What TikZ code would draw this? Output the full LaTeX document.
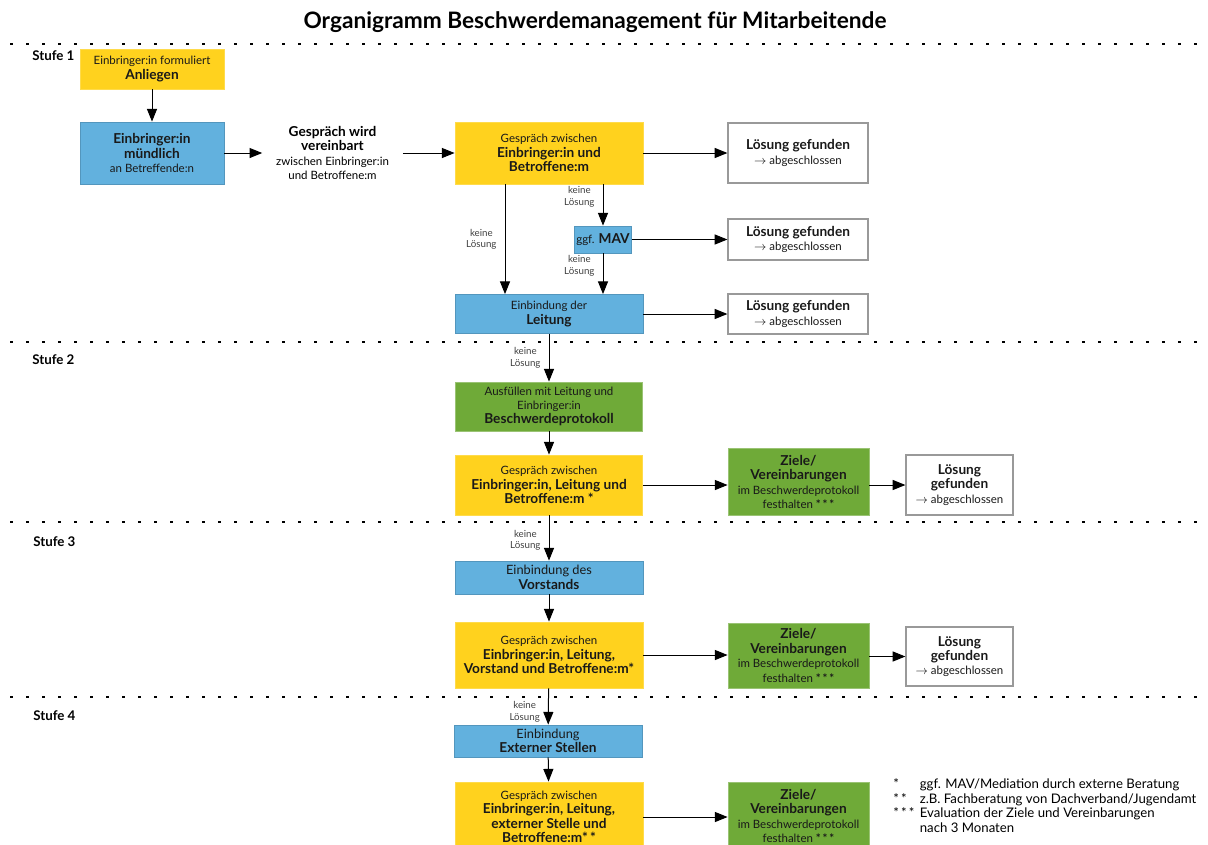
\documentclass[tikz,border=0pt]{standalone}
\usepackage{fontspec}
\setmainfont{Lato}
\usetikzlibrary{arrows.meta}
\definecolor{gelb}{HTML}{FFD21E}
\definecolor{blau}{HTML}{62B1DE}
\definecolor{gruen}{HTML}{6FAA38}
\newcommand{\klein}{\fontsize{8.6}{10.8}\selectfont}
\newcommand{\mittel}{\fontsize{9.6}{11.2}\selectfont}
\newcommand{\fett}[1]{{\bfseries\fontsize{10.25}{11.2}\selectfont #1}}
\newcommand{\sterne}[1]{{\bfseries #1}}

\begin{document}
\begin{tikzpicture}[x=0.75pt, y=-0.75pt]
  \tikzset{
    kasten/.style={draw, line width=0.6pt, align=center, inner sep=1pt, font=\klein, text=black!90},
    gelbkasten/.style={kasten, fill=gelb, draw=gelb!80!white},
    blaukasten/.style={kasten, fill=blau, draw=blau!85!black},
    gruenkasten/.style={kasten, fill=gruen, draw=gruen!70!white},
    weisskasten/.style={kasten, fill=white, draw=black!40, line width=0.9pt},
    groesse/.style 2 args={minimum width=#1*0.75pt, minimum height=#2*0.75pt},
    pfeil/.style={-{Triangle[length=9.5pt,width=7.5pt]}, line width=0.75pt},
    hinweis/.style={font=\fontsize{7.3}{8.6}\selectfont, text=black!75, align=center, inner sep=1pt},
    trenner/.style={line width=1.8pt, dash pattern=on 2.2pt off 9.8pt},
    stufe/.style={font=\bfseries\fontsize{10}{12}\selectfont, anchor=west, inner sep=0pt}
  }
  \useasboundingbox (0,0) rectangle (1208,844);

  % Titel und Trennlinien
  \node[font=\bfseries\fontsize{17}{20}\selectfont] (titel) at (595,22) {Organigramm Beschwerdemanagement für Mitarbeitende};
  \draw[trenner] (10,44) -- (1200,44);
  \draw[trenner] (10,342) -- (1200,342);
  \draw[trenner] (10,522) -- (1200,522);
  \draw[trenner] (10,697) -- (1200,697);
  \node[stufe] (stufe1) at (32,56) {Stufe 1};
  \node[stufe] (stufe2) at (32,360) {Stufe 2};
  \node[stufe] (stufe3) at (33,542) {Stufe 3};
  \node[stufe] (stufe4) at (33,716) {Stufe 4};

  % Stufe 1
  \node[gelbkasten, groesse={144}{40}] (anliegen) at (152,69) {Einbringer:in formuliert\\\fett{Anliegen}};
  \node[blaukasten, groesse={144}{62}] (muendlich) at (152,153) {\fett{Einbringer:in}\\\fett{mündlich}\\an Betreffende:n};
  \node[align=center, font=\klein, groesse={140}{40}] (vereinbart) at (332.5,153) {\fett{Gespräch wird}\\\fett{vereinbart}\\zwischen Einbringer:in\\und Betroffene:m};
  \node[gelbkasten, groesse={188}{62}] (gespraech1) at (549,153) {Gespräch zwischen\\\fett{Einbringer:in und}\\\fett{Betroffene:m}};
  \node[weisskasten, groesse={140}{60}] (loesung1) at (798,153) {\fett{Lösung gefunden}\\$\rightarrow$ abgeschlossen};
  \node[blaukasten, groesse={57}{27}] (mav) at (603,239.5) {ggf. \fett{MAV}};
  \node[weisskasten, groesse={140}{41}] (loesung2) at (798,239.5) {\fett{Lösung gefunden}\\$\rightarrow$ abgeschlossen};
  \node[blaukasten, groesse={188}{39}] (leitung) at (549,314) {Einbindung der\\\fett{Leitung}};
  \node[weisskasten, groesse={140}{40}] (loesung3) at (798,314) {\fett{Lösung gefunden}\\$\rightarrow$ abgeschlossen};

  \draw[pfeil] (anliegen) -- (muendlich);
  \draw[pfeil] (muendlich) -- (vereinbart);
  \draw[pfeil] (vereinbart) -- (gespraech1);
  \draw[pfeil] (gespraech1) -- (loesung1);
  \draw[pfeil] (gespraech1.south -| mav) -- (mav) node[hinweis, pos=0.3, left=5pt] {keine\\Lösung};
  \draw[pfeil] (mav) -- (loesung2);
  \draw[pfeil] (mav) -- (leitung.north -| mav) node[hinweis, pos=0.3, left=5pt] {keine\\Lösung};
  \draw[pfeil] ([xshift=-33pt]gespraech1.south) -- ([xshift=-33pt]leitung.north) node[hinweis, midway, left=5pt] {keine\\Lösung};
  \draw[pfeil] (leitung) -- (loesung3);

  % Stufe 2
  \node[gruenkasten, groesse={187}{49}] (protokoll) at (549,406.5) {Ausfüllen mit Leitung und\\Einbringer:in\\\fett{Beschwerdeprotokoll}};
  \node[gelbkasten, groesse={187}{60}] (gespraech2) at (549,485) {Gespräch zwischen\\\fett{Einbringer:in, Leitung und}\\\fett{Betroffene:m *}};
  \node[gruenkasten, groesse={141}{67}] (ziele1) at (798.5,482) {\fett{Ziele/}\\\fett{Vereinbarungen}\\im Beschwerdeprotokoll\\festhalten \sterne{*\,*\,*}};
  \node[weisskasten, groesse={107}{60}] (loesung4) at (959.5,485) {\fett{Lösung}\\\fett{gefunden}\\$\rightarrow$ abgeschlossen};

  \draw[pfeil] (leitung) -- (protokoll) node[hinweis, midway, left=5pt] {keine\\Lösung};
  \draw[pfeil] (protokoll) -- (gespraech2);
  \draw[pfeil] (gespraech2) -- (gespraech2 -| ziele1.west);
  \draw[pfeil] (ziele1.east |- loesung4) -- (loesung4);

  % Stufe 3
  \node[blaukasten, groesse={188}{33}] (vorstand) at (549,577.5) {{\mittel Einbindung des}\\\fett{Vorstands}};
  \node[gelbkasten, groesse={188}{66}] (gespraech3) at (549,655) {Gespräch zwischen\\\fett{Einbringer:in, Leitung,}\\\fett{Vorstand und Betroffene:m*}};
  \node[gruenkasten, groesse={141}{65}] (ziele2) at (798.5,655.5) {\fett{Ziele/}\\\fett{Vereinbarungen}\\im Beschwerdeprotokoll\\festhalten \sterne{*\,*\,*}};
  \node[weisskasten, groesse={107}{59}] (loesung5) at (959.5,656.5) {\fett{Lösung}\\\fett{gefunden}\\$\rightarrow$ abgeschlossen};

  \draw[pfeil] (gespraech2) -- (vorstand) node[hinweis, pos=0.55, left=5pt] {keine\\Lösung};
  \draw[pfeil] (vorstand) -- (gespraech3);
  \draw[pfeil] (gespraech3) -- (gespraech3 -| ziele2.west);
  \draw[pfeil] (ziele2.east |- loesung5) -- (loesung5);

  % Stufe 4
  \node[blaukasten, groesse={188}{32}] (extern) at (548,741) {{\mittel Einbindung}\\\fett{Externer Stellen}};
  \node[gelbkasten, groesse={188}{70}] (gespraech4) at (549,817) {Gespräch zwischen\\\fett{Einbringer:in, Leitung,}\\\fett{externer Stelle und}\\\fett{Betroffene:m*\,*}};
  \node[gruenkasten, groesse={141}{68}] (ziele3) at (798.5,816) {\fett{Ziele/}\\\fett{Vereinbarungen}\\im Beschwerdeprotokoll\\festhalten \sterne{*\,*\,*}};

  \draw[pfeil] (gespraech3) -- (extern) node[hinweis, pos=0.65, left=5pt] {keine\\Lösung};
  \draw[pfeil] (extern) -- (gespraech4);
  \draw[pfeil] (gespraech4) -- (gespraech4 -| ziele3.west);

  % Fussnoten
  \node[anchor=north west, inner sep=0pt, font=\fontsize{9.9}{11}\selectfont] (fussnoten) at (893,778)
    {\begin{tabular}{@{}l@{\hspace{4pt}}l@{}}
      {*} & ggf. MAV/Mediation durch externe Beratung\\
      {*\,*} & z.B. Fachberatung von Dachverband/Jugendamt\\
      {*\,*\,*} & Evaluation der Ziele und Vereinbarungen\\
          & nach 3 Monaten
    \end{tabular}};
\end{tikzpicture}
\end{document}
